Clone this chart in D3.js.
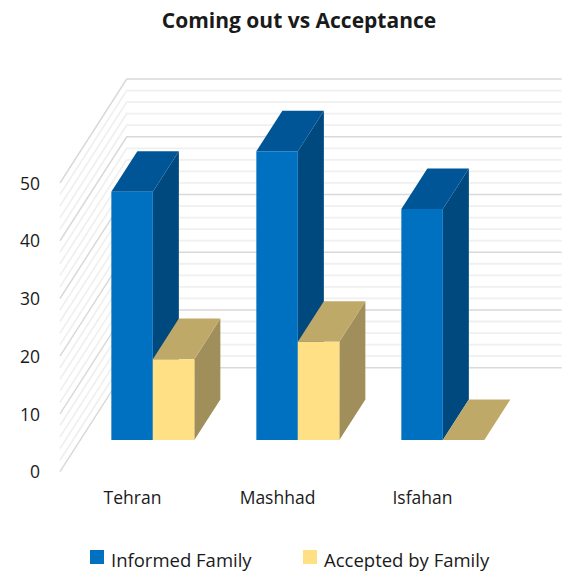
<!DOCTYPE html>
<html>
<head>
<meta charset="utf-8">
<script src="https://cdnjs.cloudflare.com/ajax/libs/d3/7.8.5/d3.min.js"></script>
<style>
html,body{margin:0;padding:0;background:#fff;}
text{font-family:"Open Sans",sans-serif;fill:#1a1a1a;}
</style>
</head>
<body>
<div id="chart"></div>
<script>
// values
var categories = ["Tehran", "Mashhad", "Isfahan"];
var informedFamily = [43, 50, 40];
var acceptedByFamily = [14, 17, 0];
var yTicks = [0, 10, 20, 30, 40, 50];
var gridValues = d3.range(0, 51, 2);
var seriesNames = ["Informed Family", "Accepted by Family"];

var width = 562, height = 573;

// the fake 3d: every point is pushed back along this vector by z (0..1)
var depth = {dx: 66.7, dy: -104};
var barZ = [0.305, 0.695];

var y = d3.scaleLinear().domain([0, 50]).range([471.7, 183]);
var x = d3.scaleBand().domain(categories).range([60, 495])
    .paddingInner(0.4276).paddingOuter(0.2138);
var xSeries = d3.scaleBand().domain([0, 1]).range([0, x.bandwidth()]);

var colors = [
  {front: "#0070c0", top: "#005597", side: "#00487e"},
  {front: "#ffe084", top: "#bfa969", side: "#a08f5a"}
];

function pt(px, v, z) {
  return [px + z * depth.dx, y(v) + z * depth.dy];
}
function poly(pts) {
  return "M" + pts.map(function(p) { return p.join(","); }).join("L") + "Z";
}

var svg = d3.select("#chart").append("svg")
  .attr("width", width)
  .attr("height", height)
  .style("display", "block");

var defs = svg.append("defs");
defs.append("filter").attr("id", "soft")
  .append("feGaussianBlur").attr("stdDeviation", 0.45);

var plot = svg.append("g").attr("filter", "url(#soft)");

// gridlines on side wall and back wall
var grid = plot.append("g").attr("fill", "none");
gridValues.slice().sort(function(a, b) { return (a % 10 === 0) - (b % 10 === 0); }).forEach(function(v) {
  var major = v % 10 === 0;
  var a = pt(60, v, 0), b = pt(60, v, 1), c = pt(495, v, 1);
  grid.append("path")
    .attr("d", "M" + a + "L" + b + "L" + c)
    .attr("stroke", major ? "#d9d9d9" : "#f0f0f0")
    .attr("stroke-width", major ? 1.5 : 1.8);
});

// bars
categories.forEach(function(cat, i) {
  [informedFamily, acceptedByFamily].forEach(function(vals, s) {
    var v = vals[i];
    var x0 = x(cat) + xSeries(s);
    var x1 = x0 + xSeries.bandwidth();
    var g = plot.append("g");
    g.append("path").attr("fill", colors[s].side)
      .attr("d", poly([pt(x1, 0, barZ[0]), pt(x1, 0, barZ[1]), pt(x1, v, barZ[1]), pt(x1, v, barZ[0])]));
    g.append("path").attr("fill", colors[s].top)
      .attr("d", poly([pt(x0, v, barZ[0]), pt(x1, v, barZ[0]), pt(x1, v, barZ[1]), pt(x0, v, barZ[1])]));
    g.append("path").attr("fill", colors[s].front)
      .attr("d", poly([pt(x0, 0, barZ[0]), pt(x1, 0, barZ[0]), pt(x1, v, barZ[0]), pt(x0, v, barZ[0])]));
  });
});

// y axis
var yAxis = svg.append("g")
  .attr("transform", "translate(40,0)")
  .call(d3.axisLeft(y).tickValues(yTicks).tickSize(0).tickPadding(0));
yAxis.select(".domain").remove();
yAxis.selectAll("text").style("font-size", "17.5px").attr("dy", "0.35em");

// x axis
var xAxis = svg.append("g")
  .attr("transform", "translate(0,471.7)")
  .call(d3.axisBottom(x).tickSize(0).tickPadding(20));
xAxis.select(".domain").remove();
xAxis.selectAll("text").style("font-size", "17.5px");

// title
svg.append("text")
  .attr("x", 299)
  .attr("y", 28)
  .attr("text-anchor", "middle")
  .style("font-size", "21px")
  .style("font-weight", "700")
  .text("Coming out vs Acceptance");

// legend
var legendX = [90, 303];
seriesNames.forEach(function(name, s) {
  svg.append("rect")
    .attr("x", legendX[s])
    .attr("y", 550)
    .attr("width", 14)
    .attr("height", 14)
    .attr("fill", colors[s].front);
  svg.append("text")
    .attr("x", legendX[s] + 21)
    .attr("y", 567)
    .style("font-size", "18.5px")
    .text(name);
});
</script>
</body>
</html>
